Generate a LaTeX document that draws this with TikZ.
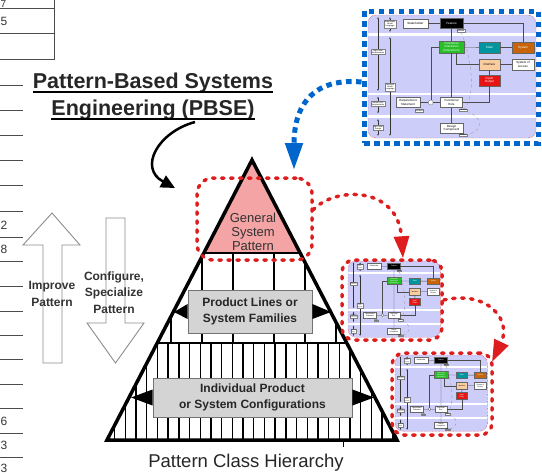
\documentclass[tikz,border=0pt]{standalone}
\usepackage{fontspec}
\setmainfont{Liberation Sans}
\usetikzlibrary{arrows.meta,positioning,calc}

\definecolor{lav}{RGB}{205,205,250}
\definecolor{smgreen}{RGB}{40,190,40}
\definecolor{smteal}{RGB}{0,150,160}
\definecolor{smorange}{RGB}{200,100,10}
\definecolor{smpeach}{RGB}{250,205,160}
\definecolor{smred}{RGB}{230,20,20}
\definecolor{pbsered}{RGB}{222,30,30}
\definecolor{pbseblue}{RGB}{0,102,204}
\definecolor{pinkfill}{RGB}{244,164,164}
\definecolor{boxgray}{RGB}{212,212,212}
\definecolor{arrowgray}{RGB}{140,140,140}

\tikzset{
  smbox/.style={draw=black!60, line width=0.3pt, fill=white, minimum height=10pt, inner sep=0.5pt, align=center, font=\fontsize{3}{3.4}\selectfont},
  smtag/.style={draw=black!50, line width=0.2pt, fill=white, inner sep=0.4pt, align=center, font=\fontsize{2}{2.3}\selectfont},
  smline/.style={draw=black!70, line width=0.35pt},
  smarr/.style={draw=black!80, line width=0.35pt, <->, >={Latex[length=2pt,width=1.6pt]}},
  % S* metamodel sketch, drawn in px from the top left corner
  smeta/.pic={
    \fill[lav, rounded corners=8pt] (8,15) rectangle (176,138);
    \fill[white] (8,33) rectangle (176,35.5);
    \fill[white] (8,92.5) rectangle (176,95);
    \fill[white] (8,115) rectangle (176,117.5);
    \draw[red!80!black, densely dotted, line width=0.4pt, rounded corners=8pt] (8,15) rectangle (176,138);
    \draw[smarr] (18,17) -- (18,91);
    \draw[smarr] (18,96.5) -- (18,113.5);
    \draw[smarr] (18,119) -- (18,136);
    \draw[smarr] (30,17) -- (30,32);
    \draw[smarr] (30,37) -- (30,136);
    \node[smtag] (-lv1) at (30,24) {Stakeholder\\World\\Language};
    \node[smtag] (-lv2) at (18,52) {High Level\\Requirements};
    \node[smtag] (-lv3) at (30,87) {Technical\\World\\Language};
    \node[smtag] (-lv4) at (18,104) {Detail Level\\Requirements};
    \node[smtag] (-lv5) at (18,128) {High Level\\Design};
    \node[smbox, minimum width=25pt, minimum height=9pt] (-stake) at (55.5,23.5) {Stakeholder};
    \node[smbox, fill=black, text=white, minimum width=23pt] (-feat) at (91.5,23.5) {Feature};
    \node[smbox, fill=smgreen, text=white, minimum width=25pt, minimum height=12pt] (-fint) at (91.5,47) {Functional\\Interaction\\(Interaction)};
    \node[smbox, fill=smteal, text=white, minimum width=21pt, minimum height=11pt] (-state) at (129.5,47.5) {State};
    \node[smbox, fill=smorange, text=white, minimum width=22pt, minimum height=11pt] (-sys) at (163,47.5) {System};
    \node[smbox, fill=smpeach, minimum width=21pt, minimum height=11pt] (-intf) at (129.5,64.5) {Interface};
    \node[smbox, minimum width=22pt, minimum height=11pt] (-soa) at (163,64.5) {System of\\Access};
    \node[smbox, fill=smred, text=white, minimum width=21pt, minimum height=11pt] (-io) at (129.5,80.5) {Input/\\Output};
    \node[smbox, minimum width=24pt] (-req) at (48,102.5) {Requirement\\Statement};
    \node[circle, draw=black!60, fill=white, minimum size=5pt, inner sep=0pt, line width=0.3pt] (-dot) at (70.7,102.5) {};
    \node[smbox, minimum width=22pt] (-frole) at (91.5,102.5) {Functional\\Role};
    \node[smbox, minimum width=23pt] (-dcomp) at (91.5,128) {Design\\Component};
    \node[smtag] (-at1) at (100.7,30.7) {attribute};
    \node[smtag] (-at2) at (59.3,110.7) {attribute};
    \node[smtag] (-at3) at (103.3,110) {attribute};
    \node[smtag] (-at4) at (103.3,135) {attribute};
    \draw[smline] (-stake) -- (-feat);
    \draw[smline] (-feat.east) -| (-sys.north);
    \draw[smline] (-feat) -- (-fint);
    \draw[smline] (-fint) -- (-state);
    \draw[smline] (-state) -- (-sys);
    \draw[smline] (-fint) -- (-frole);
    \draw[smline] ([xshift=5pt]-fint.south) |- (-intf.west);
    \draw[smline] (-intf) -- (-soa);
    \draw[smline] (-intf) -- (-io);
    \draw[smline] (-io.south) |- (-frole.east);
    \draw[smline] (-req) -- (-dot) -- (-frole);
    \draw[smline] (-dot) |- (-fint.west);
    \draw[smline] (-frole) -- (-dcomp);
    \draw[smline, dashed, draw=black!40] (-at1) .. controls (112,60) and (116,95) .. (-at3);
    \draw[smline, dashed, draw=black!40] (-at3) .. controls (125,118) and (122,132) .. (-at4);
  }
}

\begin{document}
\begin{tikzpicture}[x=1pt, y=-1pt,
  tabline/.style={draw=black!70, line width=0.7pt},
  tabnum/.style={font=\fontsize{12}{12}\selectfont, text=black!80, anchor=west, inner sep=0pt},
  pbsetitle/.style={font=\fontsize{21.5}{24}\selectfont\bfseries, text=black!85, inner sep=0pt, anchor=base},
  hollow/.style={draw=arrowgray, fill=white, line width=0.9pt},
  sidetext/.style={font=\fontsize{12}{16.5}\selectfont\bfseries, text=black!80, align=center},
  tier/.style={draw=black!55, fill=boxgray, line width=0.8pt, align=center, font=\fontsize{12}{16.5}\selectfont\bfseries, text=black!85},
  redloop/.style={draw=pbsered, line width=3.5pt, dash pattern=on 2.5pt off 6.5pt, line cap=round, rounded corners=16pt, inner sep=0pt},
  redarr/.style={draw=pbsered, line width=3.5pt, dash pattern=on 2.5pt off 6.5pt, line cap=round, -{Triangle[length=22pt,width=15pt]}},
  bluearr/.style={draw=pbseblue, line width=5pt, dash pattern=on 5.5pt off 4.5pt, -{Triangle[length=27pt,width=17pt]}},
]
\useasboundingbox (0,0) rectangle (542,475);

% table edge on the left
\draw[tabline] (54,0) -- (54,60);
\foreach \y in {8,33,59} \draw[tabline] (0,\y) -- (54,\y);
\foreach \y in {85,110,135,160,185,211,237,261,286,311,335,359,384,408,433,457}
  \draw[tabline] (0,\y) -- (23,\y);
\node[tabnum, font=\fontsize{10}{10}\selectfont] (n7) at (0.5,4.3) {7};
\node[tabnum] (n5) at (0.5,21) {5};
\node[tabnum] (n2) at (0.5,225) {2};
\node[tabnum] (n8) at (0.5,249) {8};
\node[tabnum] (n6) at (0.5,421) {6};
\node[tabnum] (n3a) at (0.5,445) {3};
\node[tabnum] (n3b) at (0.5,468) {3};

% title
\node[pbsetitle] (t1) at (153,88) {Pattern-Based Systems};
\node[pbsetitle] (t2) at (153,115) {Engineering (PBSE)};
\draw[line width=1.3pt] ([yshift=-4pt]t1.base west) -- ([yshift=-4pt]t1.base east);
\draw[line width=1.3pt] ([yshift=-4pt]t2.base west) -- ([yshift=-4pt]t2.base east);

% improve / configure arrows
\draw[hollow] (52,213) -- (80,245) -- (62,245) -- (62,363) -- (43,363) -- (43,245) -- (23,245) -- cycle;
\draw[hollow] (106,218) -- (125,218) -- (125,323) -- (144,323) -- (115.5,363) -- (87,323) -- (106,323) -- cycle;
\node[sidetext] (improve) at (52,294) {Improve\\Pattern};
\node[sidetext] (config) at (114,292.5) {Configure,\\Specialize\\Pattern};

% pyramid
\coordinate (apex) at (252,160);
\coordinate (bl) at (107,440);
\coordinate (br) at (397,440);
\fill[pinkfill] (apex) -- (203.8,253) -- (300.2,253) -- cycle;
\begin{scope}
  \clip (apex) -- (bl) -- (br) -- cycle;
  \foreach \x in {171,202,233,274,305,336} \draw[line width=1.4pt] (\x,253) -- (\x,343);
  \foreach \i in {0,...,26} \draw[line width=1.4pt] (114.6+10.7*\i,343) -- ++(0,97);
  \draw[line width=2pt] (100,253) -- (400,253);
  \draw[line width=2pt] (100,343) -- (400,343);
\end{scope}
\draw[line width=3.5pt, line join=miter] (apex) -- (bl) -- (br) -- cycle;
\draw[line width=1pt] (343,440) -- (343,447);

\node[font=\fontsize{13}{14}\selectfont, text=black!80, align=center] (gsptxt) at (253,232) {General\\System\\Pattern};
\node[tier, minimum width=124pt, minimum height=43pt] (fam) at (250,311.5) {Product Lines or\\System Families};
\node[tier, minimum width=199pt, minimum height=39pt] (cfg) at (252.5,397.5) {Individual Product\\or System Configurations};
\fill ([yshift=7.5pt]fam.west) -- ([yshift=-7.5pt]fam.west) -- (174,312) -- cycle;
\fill ([yshift=7.5pt]fam.east) -- ([yshift=-7.5pt]fam.east) -- (331,312) -- cycle;
\fill ([yshift=8pt]cfg.west) -- ([yshift=-8pt]cfg.west) -- (131,397.5) -- cycle;
\fill ([yshift=8pt]cfg.east) -- ([yshift=-8pt]cfg.east) -- (374,397.5) -- cycle;

\node[font=\fontsize{18.5}{20}\selectfont, text=black!85] (pch) at (246,463) {Pattern Class Hierarchy};

% metamodel pictures
\pic (big) at (360,0) {smeta};
\node[draw=pbseblue, line width=5pt, dash pattern=on 5.5pt off 4.5pt, minimum width=174pt, minimum height=132pt, inner sep=0pt] (smframe) at (451,77) {};
\pic[shift={(343.6,251.7)}, xscale=0.55, yscale=0.62, transform shape] (tha) {smeta};
\pic[shift={(390.6,345.7)}, xscale=0.55, yscale=0.62, transform shape] (thb) {smeta};

% red dashed loops and arrows
\node[redloop, minimum width=115pt, minimum height=82pt] (gsp) at (254.5,219) {};
\node[redloop, rounded corners=12pt, minimum width=100pt, minimum height=80pt] (thaloop) at (392,300) {};
\node[redloop, rounded corners=12pt, minimum width=100pt, minimum height=82pt] (thbloop) at (442,394) {};
\coordinate (gspout) at (313,210);
\coordinate (thbin) at (492,362);
\draw[redarr] (gspout) .. controls (335,186) and (398,186) .. ([xshift=11pt]thaloop.north);
\draw[redarr] (thaloop.east) .. controls (488,290) and (512,320) .. (thbin);

% blue arrow and pbse arrow
\coordinate (gspin) at (294,170);
\draw[bluearr] ([yshift=-5pt]smframe.west) .. controls (318,78) and (294,100) .. (gspin);
\coordinate (pbseout) at (195,122);
\coordinate (pyrin) at (175,188);
\draw[line width=2.5pt, -{Triangle[length=14pt,width=13pt]}] (pbseout) .. controls (158,132) and (138,168) .. (pyrin);

\end{tikzpicture}
\end{document}
